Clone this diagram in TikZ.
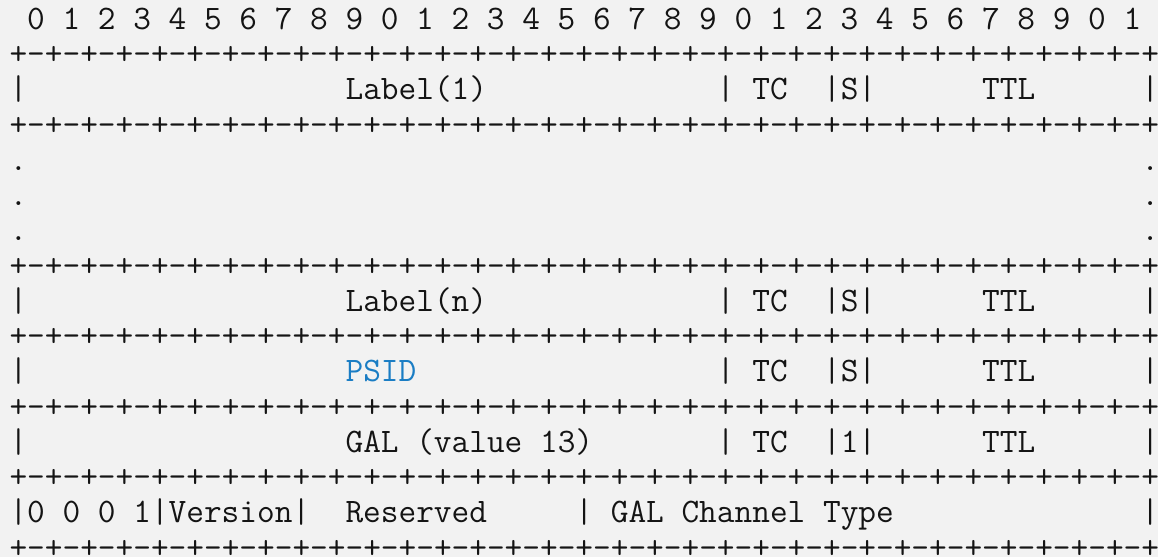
\documentclass[tikz,border=0pt]{standalone}
\usepackage{fontspec}
\usepackage{xcolor}
\usepackage{tikz}
\newcommand\blank[1]{\hspace*{#1\fontcharwd\font`0}}

\begin{document}
\begin{tikzpicture}[x=8.84pt, y=-17.63pt]
  \definecolor{pageGrey}{HTML}{F2F2F2}
  \definecolor{psidBlue}{HTML}{1A7DC4}
  \colorlet{inkBlack}{black!92}
  \tikzset{
    asciiRow/.style={anchor=base west, inner sep=0pt, text=inkBlack,
      font=\ttfamily\fontsize{17.17pt}{17.63pt}\selectfont\frenchspacing}
  }

  \def\ruleText{+-+-+-+-+-+-+-+-+-+-+-+-+-+-+-+-+-+-+-+-+-+-+-+-+-+-+-+-+-+-+-+-+}

  \useasboundingbox[fill=pageGrey] (-4.58pt,14.65pt) rectangle (574.42pt,-263.85pt);

  \node[asciiRow] (bitNums) at (0,0) {\blank{1}0 1 2 3 4 5 6 7 8 9 0 1 2 3 4 5 6 7 8 9 0 1 2 3 4 5 6 7 8 9 0 1};

  \foreach \r in {1,3,7,9,11,13,15}
    \node[asciiRow] (sep\r) at (0,\r) {\ruleText};

  \node[asciiRow] (labelFirst) at (0,2) {|\blank{18}Label(1)\blank{13}| TC\blank{2}|S|\blank{6}TTL\blank{6}|};

  \foreach \r in {4,5,6}
    \node[asciiRow] (dots\r) at (0,\r) {.\blank{63}.};

  \node[asciiRow] (labelLast) at (0,8)  {|\blank{18}Label(n)\blank{13}| TC\blank{2}|S|\blank{6}TTL\blank{6}|};
  \node[asciiRow] (psidRow)   at (0,10) {|\blank{18}{\color{psidBlue}PSID}\blank{17}| TC\blank{2}|S|\blank{6}TTL\blank{6}|};
  \node[asciiRow] (galRow)    at (0,12) {|\blank{18}GAL (value 13)\blank{7}| TC\blank{2}|1|\blank{6}TTL\blank{6}|};
  \node[asciiRow] (achRow)    at (0,14) {|0 0 0 1|Version|\blank{2}Reserved\blank{5}| GAL Channel Type\blank{14}|};
\end{tikzpicture}
\end{document}
